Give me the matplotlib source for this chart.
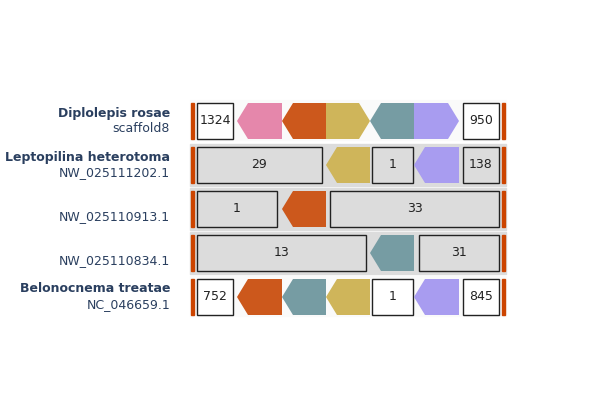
import matplotlib.pyplot as plt
from matplotlib.patches import Polygon, Rectangle

# gene colours
colors = {'A': '#e587ab', 'B': '#cc581c', 'C': '#cfb55a', 'D': '#769ca3', 'E': '#a89cf0'}

# row labels (bold name, sub name)
names = ['Diplolepis rosae', 'Leptopilina heterotoma', '', '', 'Belonocnema treatae']
subs = ['scaffold8', 'NW_025111202.1', 'NW_025110913.1', 'NW_025110834.1', 'NC_046659.1']
row_y = [121, 165, 209, 253, 297]

# elements per row: (kind, start, end, direction/label)
rows = [
    [('box', 197, 233, '1324'), ('A', 237, 282, -1), ('B', 282, 326, -1), ('C', 326, 370, 1),
     ('D', 370, 414, -1), ('E', 414, 459, 1), ('box', 463, 499, '950')],
    [('box', 197, 322, '29'), ('C', 326, 370, -1), ('box', 372, 413, '1'), ('E', 414, 459, -1),
     ('box', 463, 499, '138')],
    [('box', 197, 277, '1'), ('B', 282, 326, -1), ('box', 330, 499, '33')],
    [('box', 197, 366, '13'), ('D', 370, 414, -1), ('box', 419, 499, '31')],
    [('box', 197, 233, '752'), ('B', 237, 282, -1), ('D', 282, 326, -1), ('C', 326, 370, -1),
     ('box', 372, 413, '1'), ('E', 414, 459, -1), ('box', 463, 499, '845')],
]
shaded = [False, True, True, True, False]

fig = plt.figure(figsize=(6, 4), dpi=100)
ax = fig.add_axes([0, 0, 1, 1])
ax.set_xlim(0, 600)
ax.set_ylim(400, 0)
ax.axis('off')

h = 36
tip = 11
for i, (y, items) in enumerate(zip(row_y, rows)):
    bg = '#dcdcdc' if shaded[i] else '#fafafa'
    ax.add_patch(Rectangle((190, y - 21), 316, 42 if shaded[i] else 40, color=bg, zorder=0))
    ax.add_patch(Rectangle((191, y - h / 2), 3, h, color='#cc4400', zorder=2))
    ax.add_patch(Rectangle((502, y - h / 2), 3, h, color='#cc4400', zorder=2))
    for kind, x0, x1, v in items:
        if kind == 'box':
            fc = '#dcdcdc' if shaded[i] else 'white'
            ax.add_patch(Rectangle((x0, y - h / 2), x1 - x0, h, fc=fc, ec='#222222', lw=1, zorder=2))
            ax.text((x0 + x1) / 2, y, v, ha='center', va='center', fontsize=9, color='#222222', zorder=3)
        else:
            t, b = y - h / 2, y + h / 2
            if v < 0:
                pts = [(x0, y), (x0 + tip, t), (x1, t), (x1, b), (x0 + tip, b)]
            else:
                pts = [(x0, t), (x1 - tip, t), (x1, y), (x1 - tip, b), (x0, b)]
            ax.add_patch(Polygon(pts, closed=True, color=colors[kind], lw=0, zorder=2))
    if names[i]:
        ax.text(170, y - 8, names[i], ha='right', va='center', fontsize=9, fontweight='bold', color='#2a3f5f')
    ax.text(170, y + 8, subs[i], ha='right', va='center', fontsize=9, color='#2a3f5f')

fig.savefig('out.png')
